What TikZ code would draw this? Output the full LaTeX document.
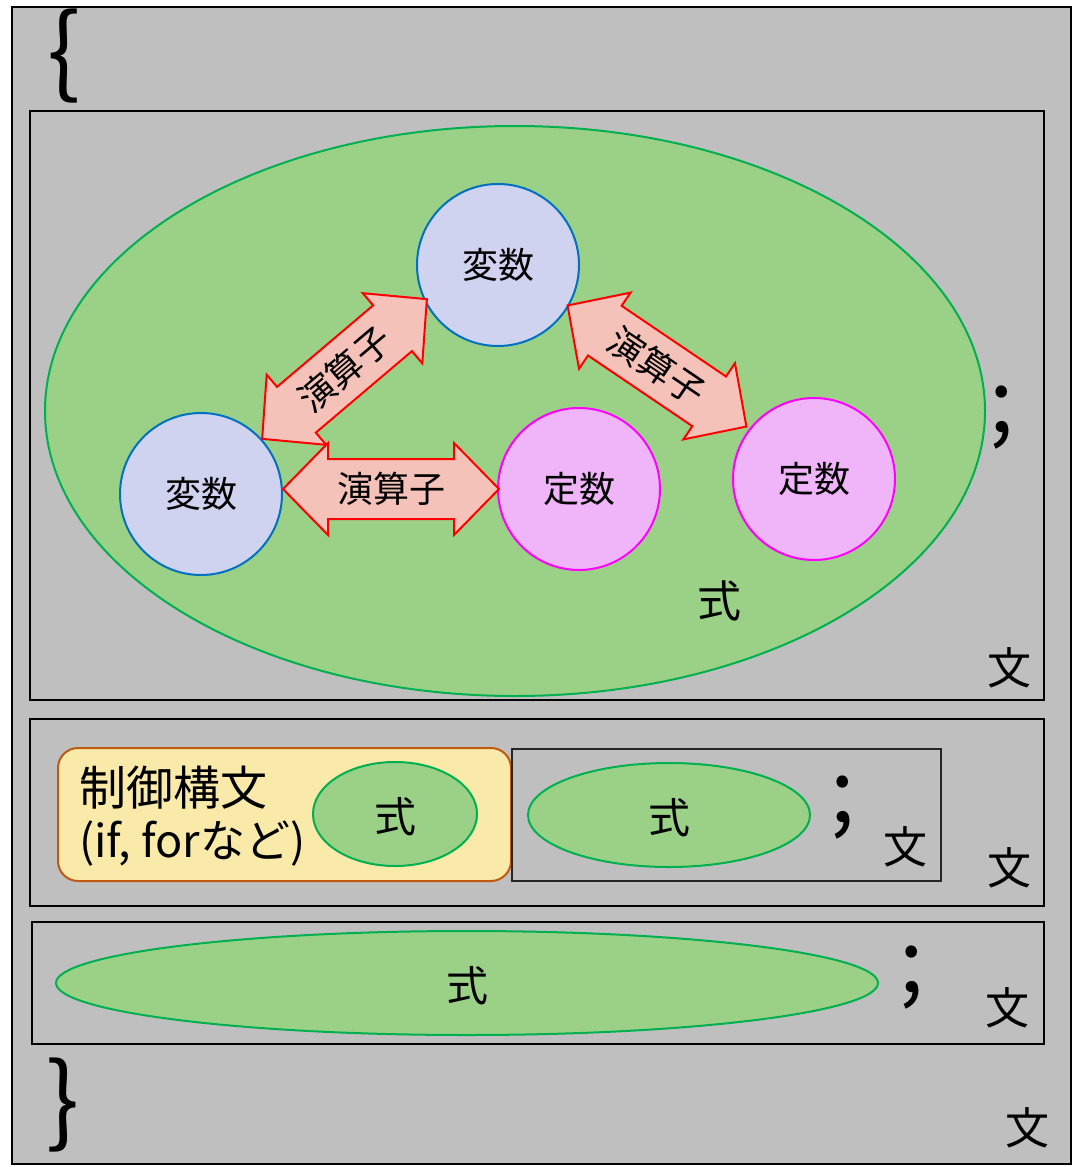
\documentclass[tikz,border=0pt]{standalone}
\usepackage{fontspec}
\setmainfont{Noto Sans CJK JP}
\definecolor{bggray}{HTML}{BFBFBF}
\definecolor{exprfill}{HTML}{9BD187}
\definecolor{exprline}{HTML}{00B050}
\definecolor{varfill}{HTML}{D0D3EF}
\definecolor{varline}{HTML}{0070C0}
\definecolor{constfill}{HTML}{F0B4F8}
\definecolor{constline}{HTML}{FF00FF}
\definecolor{opfill}{HTML}{F4C2B8}
\definecolor{ctrlfill}{HTML}{F9EAAA}
\definecolor{ctrlline}{HTML}{C05A10}
\tikzset{
  framebox/.style={draw=black, line width=2pt},
  expr/.style={draw=exprline, fill=exprfill, line width=2pt},
  varc/.style={circle, draw=varline, fill=varfill, line width=2pt, minimum size=162pt, inner sep=0pt},
  constc/.style={circle, draw=constline, fill=constfill, line width=2pt, minimum size=162pt, inner sep=0pt},
  oparrow/.style={draw=red, fill=opfill, line width=2pt, line join=miter},
  lbl/.style={font=\fontsize{36}{42}\selectfont, inner sep=0pt},
  big/.style={font=\fontsize{44}{50}\selectfont, inner sep=0pt},
  mid/.style={font=\fontsize{42}{48}\selectfont, inner sep=0pt},
  semi/.style={font=\fontsize{88}{90}\selectfont, inner sep=0pt},
  brace/.style={font=\fontsize{98}{100}\selectfont, inner sep=0pt},
}
\newcommand\dblarrow[3]{%
  \begin{scope}[shift={#2}, rotate=#3]
    \draw[oparrow] (-108,0) -- (-63,-46) -- (-63,-30) -- (63,-30) -- (63,-46) -- (108,0)
      -- (63,46) -- (63,30) -- (-63,30) -- (-63,46) -- cycle;
    \node[lbl, rotate=#3] (#1) at (0,0) {演算子};
  \end{scope}}
\begin{document}
\begin{tikzpicture}[x=1pt, y=-1pt]
\useasboundingbox (0,0) rectangle (1076,1167);
% outer block
\draw[framebox, fill=bggray] (12,7) rectangle (1071,1164);
\node[brace] (lbrace) at (64,56) {\{};
\node[brace] (rbrace) at (63,1105) {\}};
\node[big] (stmtall) at (1027,1128) {文};
% statement 1
\draw[framebox] (30,111) rectangle (1044,700);
\draw[expr] (515,411) ellipse [x radius=470, y radius=285];
\node[big] (expr1) at (719,601) {式};
\node[big] (stmt1) at (1009,668) {文};
\node[semi] (semi1) at (1002,418) {;};
% operands
\node[varc, lbl] (var1) at (498,265) {変数};
\node[varc, lbl] (var2) at (201,494) {変数};
\node[constc, lbl] (const1) at (579,489) {定数};
\node[constc, lbl] (const2) at (814,479) {定数};
% operators
\dblarrow{op1}{(391,489)}{0}
\dblarrow{op2}{(344.5,369)}{40.3}
\dblarrow{op3}{(657,366)}{-34.1}
% statement 2
\draw[framebox] (30,719) rectangle (1044,906);
\draw[draw=ctrlline, fill=ctrlfill, line width=2pt, rounded corners=20pt] (58,748) rectangle (511,881);
\node[font=\fontsize{47}{52}\selectfont, inner sep=0pt, anchor=west] (ctrl1) at (79,788) {制御構文};
\node[font=\fontsize{45}{52}\selectfont, inner sep=0pt, anchor=west] (ctrl2) at (79,843) {(if, forなど)};
\draw[expr] (395,814) ellipse [x radius=82, y radius=52];
\node[mid] (expr2) at (395,817) {式};
\draw[line width=2pt, draw=black!85] (512,749) rectangle (941,881);
\draw[expr] (669,815) ellipse [x radius=141, y radius=52];
\node[mid] (expr3) at (669,818) {式};
\node[semi] (semi2) at (843,808) {;};
\node[big] (stmt2) at (905,847) {文};
\node[big] (stmt3) at (1009,868) {文};
% statement 3
\draw[framebox] (32,922) rectangle (1044,1044);
\draw[expr] (467,983) ellipse [x radius=411, y radius=52];
\node[mid] (expr4) at (467,986) {式};
\node[semi] (semi3) at (912,978) {;};
\node[big] (stmt4) at (1007,1008) {文};
\end{tikzpicture}
\end{document}
